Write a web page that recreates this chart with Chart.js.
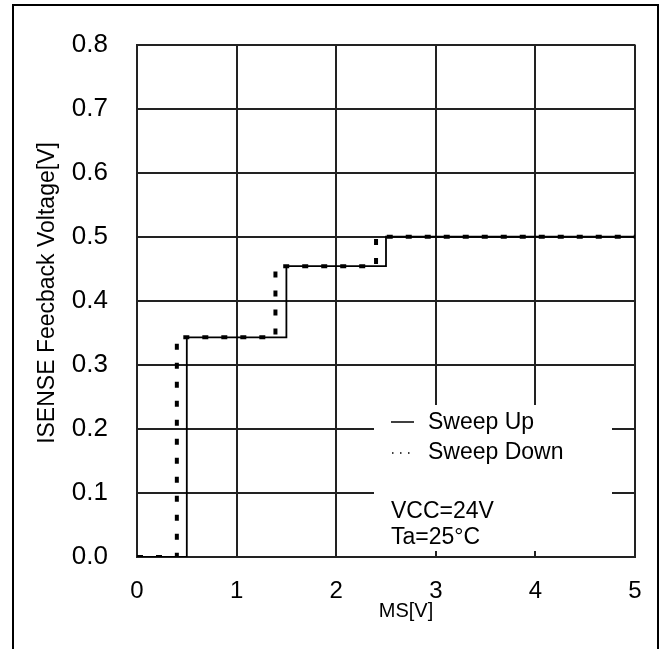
<!DOCTYPE html>
<html><head><meta charset="utf-8">
<script src="https://cdn.jsdelivr.net/npm/chart.js@4"></script>
<style>html,body{margin:0;padding:0;background:#fff;overflow:hidden}canvas{display:block}</style>
</head><body>
<canvas id="c" width="666" height="649"></canvas>
<script>
// ---- data ----
const seriesNames = ['Sweep Up', 'Sweep Down'];
const sweepUpX   = [0, 0.5, 1.5, 2.5, 5];
const sweepUpY   = [0, 0.343, 0.454, 0.5, 0.5];
const sweepDownX = [0, 0.4, 1.39, 2.4, 5];
const sweepDownY = [0, 0.343, 0.454, 0.5, 0.5];
const xTickValues = [0, 1, 2, 3, 4, 5];
const yTickValues = [0, 0.1, 0.2, 0.3, 0.4, 0.5, 0.6, 0.7, 0.8];
const xTitle = 'MS[V]';
const yTitle = 'ISENSE Feecback Voltage[V]';
const noteLines = ['VCC=24V', 'Ta=25°C'];

const FONT = "'Liberation Sans', Arial, sans-serif";
const toPts = (xs, ys) => xs.map((x, i) => ({x: x, y: ys[i]}));

const decor = {
  id: 'decor',
  beforeDatasetsDraw(chart) {
    const ctx = chart.ctx;
    ctx.save();
    ctx.fillStyle = '#fff';
    ctx.fillRect(374, 405, 238, 146);
    ctx.restore();
  },
  afterDraw(chart) {
    const ctx = chart.ctx;
    ctx.save();
    // outer frame
    ctx.strokeStyle = '#000';
    ctx.lineWidth = 2;
    ctx.strokeRect(13, 5, 645, 700);
    // axis titles
    ctx.fillStyle = '#000';
    ctx.textBaseline = 'middle';
    ctx.textAlign = 'center';
    ctx.font = '20px ' + FONT;
    ctx.fillText(xTitle, 406, 611);
    ctx.save();
    ctx.translate(48, 293);
    ctx.rotate(-Math.PI / 2);
    ctx.font = '23px ' + FONT;
    ctx.fillText(yTitle, 0, 0);
    ctx.restore();
    // legend samples
    ctx.lineWidth = 1.5;
    ctx.beginPath(); ctx.moveTo(391, 422); ctx.lineTo(414, 422); ctx.stroke();
    ctx.setLineDash([1.5, 6.5]);
    ctx.beginPath(); ctx.moveTo(392, 453); ctx.lineTo(414, 453); ctx.stroke();
    ctx.setLineDash([]);
    ctx.font = '23px ' + FONT;
    ctx.textAlign = 'left';
    ctx.fillText(chart.data.datasets[0].label, 428, 423);
    ctx.fillText(chart.data.datasets[1].label, 428, 453);
    ctx.fillText(noteLines[0], 391, 512);
    ctx.fillText(noteLines[1], 391, 538);
    ctx.restore();
  }
};

new Chart(document.getElementById('c'), {
  type: 'line',
  data: {
    datasets: [
      { label: seriesNames[0], data: toPts(sweepUpX, sweepUpY), stepped: true,
        borderColor: '#000', borderWidth: 1.8, pointRadius: 0, fill: false, order: 2 },
      { label: seriesNames[1], data: toPts(sweepDownX, sweepDownY), stepped: true,
        borderColor: '#000', borderWidth: 4, borderDash: [6, 13], borderCapStyle: 'butt',
        pointRadius: 0, fill: false, order: 1 }
    ]
  },
  plugins: [decor],
  options: {
    responsive: false,
    animation: false,
    devicePixelRatio: 1,
    layout: { padding: { top: 41, right: 31, left: 0, bottom: 0 } },
    plugins: { legend: { display: false }, tooltip: { enabled: false } },
    scales: {
      x: {
        type: 'linear', min: 0, max: 5,
        afterBuildTicks: s => { s.ticks = xTickValues.map(v => ({value: v})); },
        afterFit: s => { s.height = 92; },
        grid: { color: '#222', lineWidth: 2, drawTicks: false },
        border: { color: '#222', width: 2 },
        ticks: { color: '#000', padding: 20, font: { family: FONT, size: 24 }, maxRotation: 0 },
        title: { display: false, text: xTitle }
      },
      y: {
        type: 'linear', min: 0, max: 0.8,
        afterBuildTicks: s => { s.ticks = yTickValues.map(v => ({value: v})); },
        afterFit: s => { s.width = 137; },
        grid: { color: '#222', lineWidth: 2, drawTicks: false },
        border: { color: '#222', width: 2 },
        ticks: { color: '#000', padding: 29, font: { family: FONT, size: 26 },
                 callback: v => Number(v).toFixed(1) },
        title: { display: false, text: yTitle }
      }
    }
  }
});
</script>
</body></html>
